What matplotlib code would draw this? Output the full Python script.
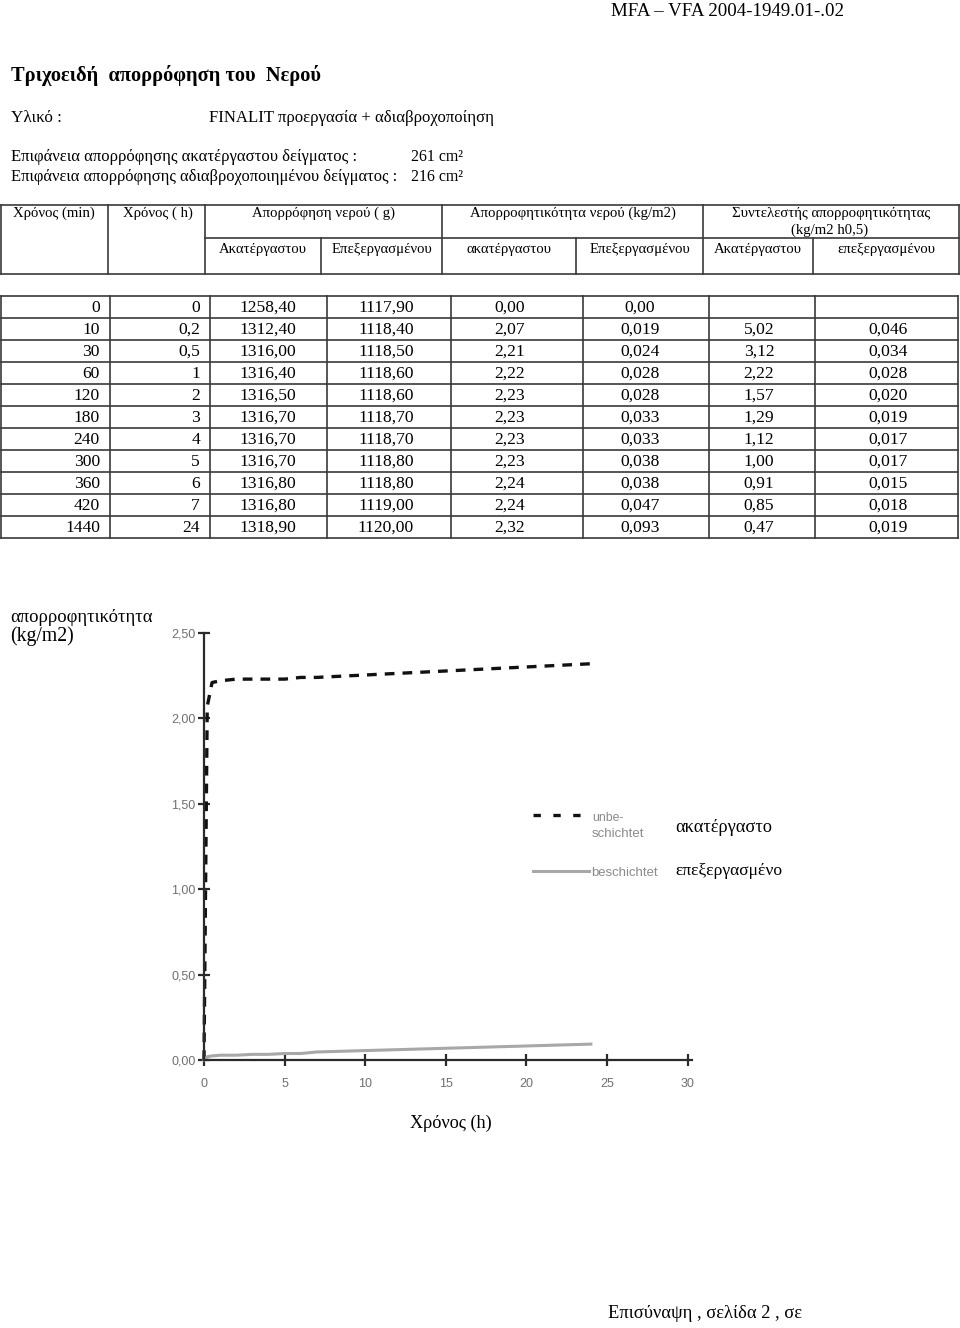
import matplotlib
matplotlib.use("Agg")
import matplotlib.pyplot as plt
from matplotlib.lines import Line2D

plt.rcParams["lines.scale_dashes"] = False

# ---------------- data ----------------
time_min = [0, 10, 30, 60, 120, 180, 240, 300, 360, 420, 1440]
time_h = [0, 0.2, 0.5, 1, 2, 3, 4, 5, 6, 7, 24]
water_untreated_g = [1258.40, 1312.40, 1316.00, 1316.40, 1316.50, 1316.70, 1316.70, 1316.70, 1316.80, 1316.80, 1318.90]
water_treated_g = [1117.90, 1118.40, 1118.50, 1118.60, 1118.60, 1118.70, 1118.70, 1118.80, 1118.80, 1119.00, 1120.00]
rate_untreated = [0.00, 2.07, 2.21, 2.22, 2.23, 2.23, 2.23, 2.23, 2.24, 2.24, 2.32]
rate_treated = [0.00, 0.019, 0.024, 0.028, 0.028, 0.033, 0.033, 0.038, 0.038, 0.047, 0.093]
coef_untreated = [None, 5.02, 3.12, 2.22, 1.57, 1.29, 1.12, 1.00, 0.91, 0.85, 0.47]
coef_treated = [None, 0.046, 0.034, 0.028, 0.020, 0.019, 0.017, 0.017, 0.015, 0.018, 0.019]

x_ticks = [0, 5, 10, 15, 20, 25, 30]
y_ticks = [0.0, 0.5, 1.0, 1.5, 2.0, 2.5]

header_top = ["Χρόνος (min)", "Χρόνος ( h)", "Απορρόφηση νερού ( g)",
              "Απορροφητικότητα νερού (kg/m2)", "Συντελεστής απορροφητικότητας"]
header_sub = ["Ακατέργαστου", "Επεξεργασμένου", "ακατέργαστου",
              "Επεξεργασμένου", "Ακατέργαστου", "επεξεργασμένου"]

W, H = 960, 1328
DPI = 100
SERIF = "Liberation Serif"
SANS = "Liberation Sans"

fig = plt.figure(figsize=(W / DPI, H / DPI), dpi=DPI)
fig.patch.set_facecolor("white")
renderer = fig.canvas.get_renderer()


def fx(x):
    return x / W


def fy(y):
    return 1 - y / H


def txt(s, x, y, size, ha="left", family=SERIF, color="black", weight="normal", fit=None):
    t = fig.text(fx(x), fy(y), s, ha=ha, va="center", fontsize=size * 0.72,
                 family=family, color=color, fontweight=weight)
    if fit is not None:
        w = t.get_window_extent(renderer).width
        t.set_fontsize(size * 0.72 * fit / w)
    return t


def line(x0, y0, x1, y1, lw=1.2, color="#3a3a3a"):
    fig.add_artist(Line2D([fx(x0), fx(x1)], [fy(y0), fy(y1)], lw=lw, color=color,
                          transform=fig.transFigure))


def num(v, d):
    return f"{v:.{d}f}".replace(".", ",")


# ---------------- page text ----------------
txt("MFA – VFA 2004-1949.01-.02", 611, 11, 17, fit=232)
txt("Τριχοειδή  απορρόφηση του  Νερού", 11, 75, 18, weight="bold", fit=309)
txt("Υλικό :", 11, 118, 15, fit=51)
txt("FINALIT προεργασία + αδιαβροχοποίηση", 209, 118, 15, fit=286)
txt("Επιφάνεια απορρόφησης ακατέργαστου δείγματος :", 11, 157, 15, fit=346)
txt("Επιφάνεια απορρόφησης αδιαβροχοποιημένου δείγματος :", 11, 177, 15, fit=389)
txt("261 cm²", 411, 157, 15, fit=52)
txt("216 cm²", 411, 177, 15, fit=52)

# ---------------- header table ----------------
hx = [1, 108, 205, 321, 442, 576, 703, 813, 959]
ht, hm, hb = 205, 238, 274
line(hx[0], ht, hx[-1], ht)
line(hx[0], hb, hx[-1], hb)
line(hx[2], hm, hx[-1], hm)
for i in [0, 1, 2, 4, 6, 8]:
    line(hx[i], ht, hx[i], hb)
for i in [3, 5, 7]:
    line(hx[i], hm, hx[i], hb)

t0 = txt(header_top[0], 13, 213, 14, fit=82)
hs = t0.get_fontsize() / 0.72
txt(header_top[1], 123, 213, hs)
txt(header_top[2], (hx[2] + hx[4]) / 2, 213, hs, ha="center")
txt(header_top[3], (hx[4] + hx[6]) / 2, 213, hs, ha="center")
txt(header_top[4], (hx[6] + hx[8]) / 2, 213, hs, ha="center")
txt("(kg/m2 h0,5)", 830, 230, hs, ha="center")
for i, s in enumerate(header_sub):
    txt(s, (hx[i + 2] + hx[i + 3]) / 2, 249, hs, ha="center")

# ---------------- data table ----------------
dx = [1, 110, 210, 327, 451, 583, 709, 815, 958]
top, rh = 296, 22
nrows = len(time_min)
for r in range(nrows + 1):
    line(dx[0], top + r * rh, dx[-1], top + r * rh)
for x in dx:
    line(x, top, x, top + nrows * rh)

ds = 17.5
cx = [268, 386, 510, 640, 759, 888]
for r in range(nrows):
    yc = top + r * rh + rh / 2 + 1
    txt(str(time_min[r]), 100, yc, ds, ha="right")
    txt(str(time_h[r]).replace(".", ","), 200, yc, ds, ha="right")
    txt(num(water_untreated_g[r], 2), cx[0], yc, ds, ha="center")
    txt(num(water_treated_g[r], 2), cx[1], yc, ds, ha="center")
    txt(num(rate_untreated[r], 2), cx[2], yc, ds, ha="center")
    txt(num(rate_treated[r], 2 if rate_treated[r] == 0 else 3), cx[3], yc, ds, ha="center")
    if coef_untreated[r] is not None:
        txt(num(coef_untreated[r], 2), cx[4], yc, ds, ha="center")
    if coef_treated[r] is not None:
        txt(num(coef_treated[r], 3), cx[5], yc, ds, ha="center")

# ---------------- chart ----------------
ax_l, ax_r, ax_b, ax_t = 204, 692, 1060, 633
ax = fig.add_axes([fx(ax_l), fy(ax_b), (ax_r - ax_l) / W, (ax_b - ax_t) / H])
ax.set_facecolor("none")
ax.set_xlim(0, (ax_r - ax_l) / ((607 - 204) / 25))
ax.set_ylim(0, 2.5)

dash_color = "#111111"
solid_color = "#a8a8a8"
ln_u, = ax.plot(time_h, rate_untreated, color=dash_color, lw=2.4, clip_on=False)
ln_u.set_dashes([7.0, 5.8])
ax.plot(time_h, rate_treated, color=solid_color, lw=2.2, clip_on=False)

for s in ["top", "right"]:
    ax.spines[s].set_visible(False)
for s in ["left", "bottom"]:
    ax.spines[s].set_color("#2a2a2a")
    ax.spines[s].set_linewidth(1.6)

ax.set_xticks(x_ticks)
ax.set_yticks(y_ticks)
ax.set_xticklabels([str(v) for v in x_ticks])
ax.set_yticklabels([num(v, 2) for v in y_ticks])
ax.tick_params(axis="both", direction="inout", length=8, width=1.6, color="#2a2a2a",
               labelsize=9, labelcolor="#707070")
ax.tick_params(axis="y", pad=2)
ax.tick_params(axis="x", pad=9)
for lab in ax.get_xticklabels() + ax.get_yticklabels():
    lab.set_family(SANS)

# axis titles
txt("απορροφητικότητα", 10, 617, 17, fit=142)
txt("(kg/m2)", 10, 636, 17, fit=64)
txt("Χρόνος (h)", 410, 1123, 17, fit=82)

# legend (drawn manually)
leg1 = Line2D([fx(533), fx(581)], [fy(815), fy(815)], lw=2.4, color=dash_color,
              transform=fig.transFigure)
leg1.set_dashes([5.3, 9.0])
fig.add_artist(leg1)
fig.add_artist(Line2D([fx(533), fx(589)], [fy(871), fy(871)], lw=2.2, color=solid_color,
                      transform=fig.transFigure))
txt("unbe-", 592, 818, 12.5, family=SANS, color="#8a8a8a", fit=31)
txt("schichtet", 592, 834, 12.5, family=SANS, color="#8a8a8a", fit=53)
txt("beschichtet", 591, 873, 12.5, family=SANS, color="#8a8a8a", fit=67)
txt("ακατέργαστο", 675, 828, 17, fit=97)
txt("επεξεργασμένο", 675, 871, 17, fit=107)

# footer
txt("Επισύναψη , σελίδα 2 , σε", 608, 1314, 17, fit=194)

fig.savefig("out.png", dpi=DPI, facecolor="white")
